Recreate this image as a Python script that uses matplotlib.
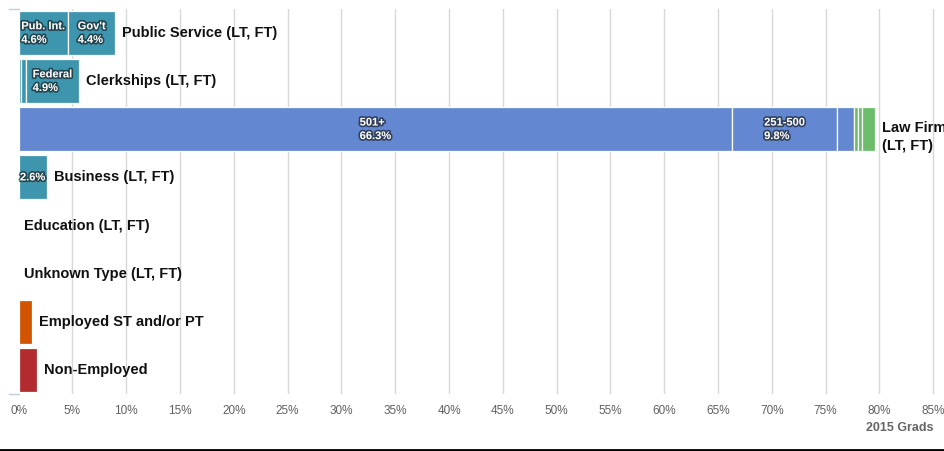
import numpy as np
import matplotlib
matplotlib.use("Agg")
from matplotlib import pyplot as plt
import matplotlib.patheffects as pe
from matplotlib.lines import Line2D

# rows, top to bottom
categories = ["Public Service (LT, FT)", "Clerkships (LT, FT)", "Law Firms\n(LT, FT)",
              "Business (LT, FT)", "Education (LT, FT)", "Unknown Type (LT, FT)",
              "Employed ST and/or PT", "Non-Employed"]

# segment values (% of 2015 grads) per row
public_service = [4.6, 4.4]
public_service_names = ["Pub. Int.", "Gov't"]
clerkships = [0.2, 0.5, 4.9]
clerkships_names = [None, None, "Federal"]
law_firms = [66.3, 9.8, 1.5, 0.4, 0.4, 1.2]
law_firms_names = ["501+", "251-500", None, None, None, None]
business = [2.6]
business_names = [""]
education = []
unknown_type = []
employed_st_pt = [1.2]
non_employed = [1.7]

xticks = list(range(0, 90, 5))

teal = "#3d96ae"
blue = "#6388d1"
green = "#6bbc6b"
orange = "#d35400"
red = "#b22b2f"

rows = [
    (public_service, public_service_names, [teal] * 2),
    (clerkships, clerkships_names, [teal] * 3),
    (law_firms, law_firms_names, [blue] * 3 + [green] * 3),
    (business, business_names, [teal]),
    (education, [], []),
    (unknown_type, [], []),
    (employed_st_pt, [None], [orange]),
    (non_employed, [None], [red]),
]

fig = plt.figure(figsize=(9.44, 4.51), dpi=100)
ax = fig.add_axes([18.6 / 944, 57 / 451, 1 - 18.6 / 944, 385 / 451])

shadow = [pe.withStroke(linewidth=2.4, foreground="#111111", alpha=0.6)]

for i, (vals, names, cols) in enumerate(rows):
    left = 0.0
    for v, name, c in zip(vals, names, cols):
        ax.barh(i, v, left=left, height=0.915, color=c, edgecolor="white",
                linewidth=0.9, zorder=3)
        if name is not None:
            txt = f"{v:.1f}%" if name == "" else f"{name}\n{v:.1f}%"
            ax.text(left + v / 2, i, txt, ha="center", va="center",
                    multialignment="left", color="white", fontsize=8,
                    fontweight="bold", family="Liberation Sans",
                    path_effects=shadow, zorder=5, linespacing=1.45)
        left += v
    off = 7 if left > 0 else 5
    dy = -5.5 if "\n" in categories[i] else 0
    ax.annotate(categories[i], (left, i), xytext=(off * 0.72, dy),
                textcoords="offset points", ha="left", va="center",
                fontsize=10.5, fontweight="bold", family="Liberation Sans",
                color="#111111", zorder=5, annotation_clip=False,
                linespacing=1.3)

ax.set_xlim(0, (944 - 18.6) / 10.76)
ax.set_ylim(len(categories) - 0.5, -0.5)
ax.set_xticks(xticks)
ax.set_xticklabels([f"{t}%" for t in xticks], color="#606060", fontsize=8.5,
                   family="Liberation Sans")
ax.tick_params(axis="x", length=0, pad=8)
ax.set_yticks([])
for t in xticks[1:]:
    ax.axvline(t, color="#d8d8d8", linewidth=1, zorder=0)
for s in ax.spines.values():
    s.set_visible(False)

# small axis ticks top and bottom on the left
fig.add_artist(Line2D([9 / 944, 19 / 944], [1 - 9 / 451] * 2, color="#c0d0e0", lw=1))
fig.add_artist(Line2D([9 / 944, 19 / 944], [1 - 394 / 451] * 2, color="#c0d0e0", lw=1))

fig.text(933 / 944, 1 - 428 / 451, "2015 Grads", ha="right", va="center",
         fontsize=9, fontweight="bold", color="#666666", family="Liberation Sans")

fig.add_artist(Line2D([0, 1], [1 / 451] * 2, color="black", lw=2))

fig.savefig("out.png", dpi=100)
